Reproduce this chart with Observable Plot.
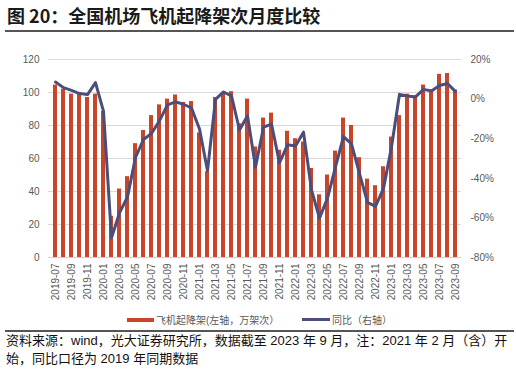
<!DOCTYPE html>
<html>
<head>
<meta charset="utf-8">
<script src="https://cdn.jsdelivr.net/npm/d3@7"></script>
<script src="https://cdn.jsdelivr.net/npm/@observablehq/plot@0.6"></script>
<style>
  html, body { margin: 0; padding: 0; background: #fff; }
  #wrap { position: relative; width: 516px; height: 369px; overflow: hidden; background: #fff; }
  #title { position: absolute; left: 7px; top: 4px; font-family: "Noto Sans CJK SC", sans-serif; font-weight: bold; font-size: 18px; line-height: 22px; color: #1a1a1a; white-space: nowrap; }
  .rule { position: absolute; left: 5px; width: 509px; height: 0; border-top: 2px solid #555; }
  #chart { position: absolute; left: 0; top: 33px; }
  .leg { position: absolute; top: 312px; height: 15px; display: flex; align-items: center; font-family: "Liberation Sans", "Noto Sans CJK SC", sans-serif; font-size: 10px; color: #595959; white-space: nowrap; }
  .sw { display: inline-block; width: 27px; margin-right: 2px; }
  #source { position: absolute; left: 6px; top: 332px; font-family: "Liberation Sans", "Noto Sans CJK SC", sans-serif; font-size: 13px; line-height: 18px; color: #111; white-space: nowrap; }
</style>
</head>
<body>
<div id="wrap">
  <div id="title">图 20：全国机场飞机起降架次月度比较</div>
  <div class="rule" style="top:30px"></div>
  <div id="chart"></div>
  <div class="leg" style="left:127px"><span class="sw" style="height:4px;background:#c9452a"></span>飞机起降架(左轴，万架次）</div>
  <div class="leg" style="left:302px"><span class="sw" style="height:3px;background:#4b4e7b;width:28px"></span>同比（右轴）</div>
  <div class="rule" style="top:330px"></div>
  <div id="source">资料来源：wind，光大证券研究所，数据截至 2023 年 9 月，注：2021 年 2 月（含）开<br>始，同比口径为 2019 年同期数据</div>
</div>
<script>
const months = [
  "2019-07","2019-08","2019-09","2019-10","2019-11","2019-12",
  "2020-01","2020-02","2020-03","2020-04","2020-05","2020-06",
  "2020-07","2020-08","2020-09","2020-10","2020-11","2020-12",
  "2021-01","2021-02","2021-03","2021-04","2021-05","2021-06",
  "2021-07","2021-08","2021-09","2021-10","2021-11","2021-12",
  "2022-01","2022-02","2022-03","2022-04","2022-05","2022-06",
  "2022-07","2022-08","2022-09","2022-10","2022-11","2022-12",
  "2023-01","2023-02","2023-03","2023-04","2023-05","2023-06",
  "2023-07","2023-08","2023-09"
];
// 飞机起降架次（万架次，左轴）
const flights = [
  104.5, 102, 99, 100, 97, 99,
  88.5, 25, 41.5, 49, 69, 77,
  86, 92.5, 96, 98.5, 94, 94.5,
  75.5, 52, 97, 100, 100.5, 81,
  96, 67, 84.5, 87.5, 65, 76.5,
  72, 70, 54, 38, 50, 64.5,
  84.5, 80, 60.5, 47.5, 43.5, 55,
  73, 86, 99, 98, 104.5, 101.5,
  111, 111.5, 101.5
];
// 同比（%，右轴）
const yoy = [
  8.6, 5.8, 4.4, 2.8, 2.3, 8.3,
  -6.2, -70.1, -57.4, -49.4, -29.4, -20.4,
  -17.4, -10.9, -2.9, -1.4, -2.6, -4.5,
  -15.1, -36.2, -0.1, 3.6, 1.6, -15.6,
  -8.4, -34.4, -14.2, -12.6, -32.2, -23.1,
  -23.7, -16.7, -45.9, -60.1, -50, -34.2,
  -18.9, -22.6, -37.6, -52.2, -54.2, -45.1,
  -24.2, 2.4, 1.6, 1.1, 4.9, 4.1,
  6.9, 7.9, 3.8
];
const xTicks = months.filter((m, i) => i % 2 === 0);
const leftTicks = [0, 20, 40, 60, 80, 100, 120];
const rightTicks = [20, 0, -20, -40, -60, -80];

const rightMin = -80, rightMax = 20, leftMax = 120;
const toLeft = p => (p - rightMin) / (rightMax - rightMin) * leftMax;

const data = months.map((m, i) => ({month: m, flights: flights[i], yoy: yoy[i]}));

const chart = Plot.plot({
  width: 516,
  height: 272,
  marginTop: 26,
  marginBottom: 48,
  marginLeft: 48,
  marginRight: 55,
  style: {fontFamily: "'Liberation Sans', Arial, sans-serif", fontSize: "10px", color: "#595959", background: "transparent"},
  x: {
    type: "band",
    domain: months,
    paddingInner: 0.54,
    paddingOuter: 0.26,
    ticks: xTicks,
    tickRotate: -90,
    tickSize: 0,
    tickPadding: 6,
    label: null
  },
  y: {
    domain: [0, leftMax],
    nice: false,
    ticks: leftTicks,
    tickSize: 0,
    tickPadding: 9,
    label: null
  },
  marks: [
    Plot.ruleY(leftTicks.filter(d => d > 0), {stroke: "#d9d9d9", strokeWidth: 1}),
    Plot.ruleY([0], {stroke: "#d0d0d0", strokeWidth: 1}),
    Plot.barY(data, {x: "month", y: "flights", fill: "#c9452a"}),
    Plot.lineY(data, {x: "month", y: d => toLeft(d.yoy), stroke: "#4b4e7b", strokeWidth: 3, strokeLinejoin: "round", curve: "linear"}),
    Plot.text(rightTicks, {y: d => toLeft(d), text: d => d + "%", frameAnchor: "right", dx: 9, textAnchor: "start", fill: "#595959", fontSize: 10})
  ]
});
document.getElementById("chart").appendChild(chart);
</script>
</body>
</html>
